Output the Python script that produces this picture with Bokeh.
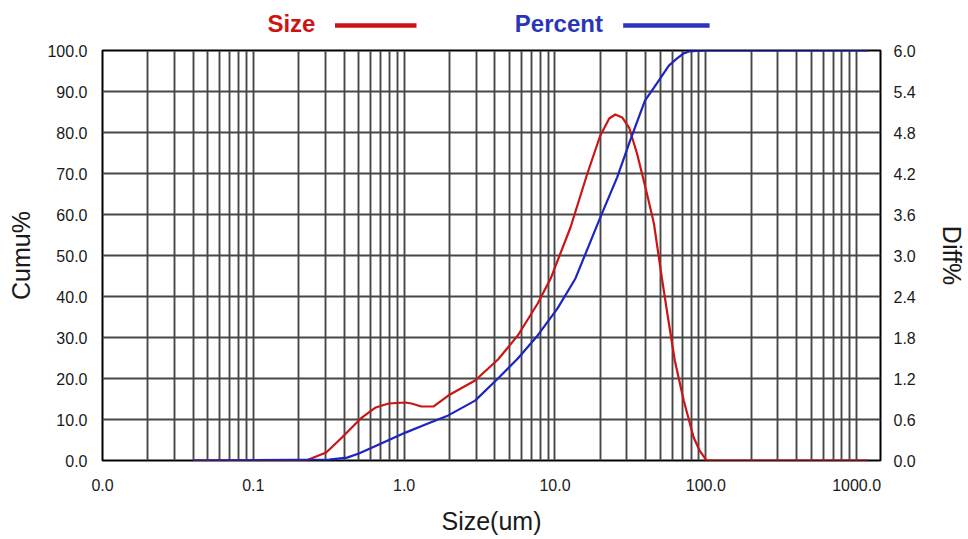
from bokeh.plotting import figure
from bokeh.models import Range1d, LinearAxis, FixedTicker, PrintfTickFormatter
from bokeh.layouts import column
from bokeh.embed import file_html
from bokeh.resources import INLINE
from bokeh.core.properties import value

# ---- data ----
# differential curve (red, right axis "Diff%")
diff_size = [0.04, 0.224, 0.304, 0.387, 0.516, 0.648, 0.789, 1.021, 1.119, 1.302,
             1.562, 1.962, 2.954, 4.19, 5.67, 7.68, 9.36, 12.67, 16.40, 19.98,
             22.9, 25.1, 27.9, 31.0, 35.0, 40.7, 45.3, 51.2, 56.0, 62.3,
             71.4, 83.1, 91.0, 101.2, 1200.0]
diff_pct = [0.0, 0.0, 0.117, 0.337, 0.615, 0.776, 0.834, 0.849, 0.834, 0.790,
            0.790, 0.951, 1.171, 1.478, 1.829, 2.298, 2.663, 3.410, 4.200, 4.756,
            5.005, 5.063, 5.020, 4.873, 4.493, 3.907, 3.468, 2.663, 2.107, 1.463,
            0.878, 0.337, 0.146, 0.0, 0.0]
# cumulative curve (blue, left axis "Cumu%")
cum_size = [0.04, 0.318, 0.418, 0.501, 0.710, 1.021, 1.384, 1.962, 2.954, 4.19,
            5.67, 7.68, 10.40, 13.67, 19.98, 25.8, 31.5, 39.5, 47.4, 56.9,
            64.2, 71.4, 78.2, 87.0, 101.2, 1200.0]
cum_pct = [0.0, 0.2, 0.7, 1.7, 4.2, 6.8, 8.8, 11.0, 14.6, 20.0,
           24.9, 30.5, 37.1, 44.4, 59.3, 69.0, 78.0, 87.8, 92.0, 96.3,
           98.0, 99.3, 99.8, 99.9, 100.0, 100.0]

x_major_ticks = [0.01, 0.1, 1, 10, 100, 1000]
cum_ticks = [0, 10, 20, 30, 40, 50, 60, 70, 80, 90, 100]
diff_ticks = [0.0, 0.6, 1.2, 1.8, 2.4, 3.0, 3.6, 4.2, 4.8, 5.4, 6.0]
legend_labels = ["Size", "Percent"]
x_min, x_max = 0.01, 1440
grid_x = [k * 10.0 ** e for e in range(-2, 4) for k in range(1, 10) if k * 10.0 ** e <= x_max]

FONT = "Liberation Sans"
RED = "#cc1414"
BLUE = "#1c24c2"
LEG_BLUE = "#2a36b8"
W = 968
LEG_H = 40
MAIN_H = 539 - LEG_H
FRAME_L, FRAME_R = 102, 885

# ---- legend strip (its frame is aligned with the main frame by the column) ----
lg = figure(width=W, height=LEG_H, x_range=Range1d(FRAME_L, FRAME_R), y_range=Range1d(LEG_H, 0),
            output_backend="svg", toolbar_location=None, min_border=0,
            min_border_left=FRAME_L, min_border_right=W - FRAME_R,
            x_axis_location=None, y_axis_location=None)
lg.outline_line_color = None
lg.grid.visible = False
lg.text(x=[268], y=[23], text=[legend_labels[0]], text_color=RED, text_font=value(FONT),
        text_font_style="bold", text_font_size="24px", text_baseline="middle", text_align="left")
lg.segment(x0=[336], y0=[25], x1=[418], y1=[25], line_color=RED, line_width=4.5)
lg.text(x=[517], y=[23], text=[legend_labels[1]], text_color=LEG_BLUE, text_font=value(FONT),
        text_font_style="bold", text_font_size="24px", text_baseline="middle", text_align="left")
lg.segment(x0=[626], y0=[25], x1=[713], y1=[25], line_color=LEG_BLUE, line_width=4.5)

# ---- main chart ----
p = figure(width=W, height=MAIN_H, x_axis_type="log",
           x_range=Range1d(x_min, x_max), y_range=Range1d(0, 100),
           output_backend="svg", toolbar_location=None,
           min_border_left=FRAME_L, min_border_right=W - FRAME_R, min_border_top=10, min_border_bottom=79)
p.extra_y_ranges = {"diff": Range1d(0, 6)}
p.outline_line_color = "black"
p.outline_line_width = 2
p.background_fill_color = "white"

p.xaxis.ticker = FixedTicker(ticks=x_major_ticks)
p.xaxis.formatter = PrintfTickFormatter(format="%.1f")
p.xaxis.axis_label = "Size(um)"
p.yaxis.ticker = FixedTicker(ticks=cum_ticks)
p.yaxis.formatter = PrintfTickFormatter(format="%.1f")
p.yaxis.axis_label = "Cumu%"

ax_r = LinearAxis(y_range_name="diff", ticker=FixedTicker(ticks=diff_ticks),
                  formatter=PrintfTickFormatter(format="%.1f"), axis_label="Diff%")
p.add_layout(ax_r, "right")

for ax in p.axis:
    ax.major_tick_out = 0
    ax.major_tick_in = 0
    ax.minor_tick_out = 0
    ax.minor_tick_in = 0
    ax.axis_line_color = None
    ax.major_label_text_font = FONT
    ax.major_label_text_font_size = "16px"
    ax.major_label_text_color = "#1a1a1a"
    ax.axis_label_text_font = FONT
    ax.axis_label_text_font_size = "25px"
    ax.axis_label_text_font_style = "normal"
    ax.axis_label_text_color = "#1a1a1a"

p.xaxis.major_label_standoff = 18
p.xaxis.axis_label_standoff = 13
p.yaxis.major_label_standoff = 15
p.yaxis.axis_label_standoff = 9
ax_r.major_label_standoff = 13
ax_r.axis_label_standoff = 19

p.xgrid.ticker = FixedTicker(ticks=grid_x)
p.ygrid.ticker = FixedTicker(ticks=cum_ticks)
p.grid.grid_line_color = "#474747"
p.grid.grid_line_width = 1.9
p.grid.grid_line_alpha = 1.0

p.line(diff_size, diff_pct, y_range_name="diff", line_color=RED, line_width=2.2)
p.line(cum_size, cum_pct, line_color=BLUE, line_width=2.2)

layout = column(lg, p, spacing=0)
open("out.html", "w").write(file_html(layout, INLINE))
